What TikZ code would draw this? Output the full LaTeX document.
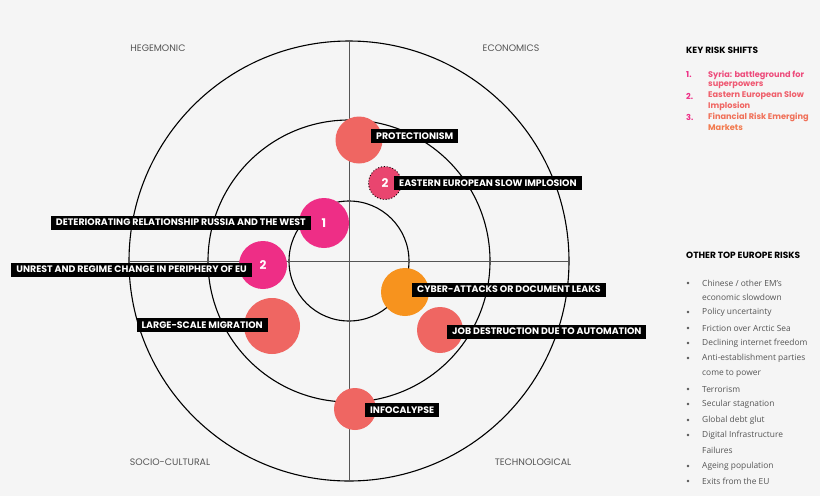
\documentclass[tikz,border=0pt]{standalone}
\usepackage{fontspec}
\setmainfont{Open Sans}
\newfontfamily\capfont{Poppins}
\usepackage{xcolor}
\usetikzlibrary{positioning}

\definecolor{bggray}{HTML}{F5F5F5}
\definecolor{riskpink}{HTML}{EE2E86}
\definecolor{risksalmon}{HTML}{EF6662}
\definecolor{riskrose}{HTML}{E9456F}
\definecolor{riskorange}{HTML}{F7931E}
\definecolor{axisgray}{HTML}{555555}
\definecolor{listgray}{HTML}{555555}

\begin{document}
\begin{tikzpicture}[
  x=1pt, y=-1pt,
  every node/.style={inner sep=0pt},
  ring/.style={draw=black, line width=1.1pt},
  axisline/.style={draw=axisgray, line width=0.7pt},
  bubble/.style={circle, minimum size=#1, text=white,
                 font=\capfont\bfseries\fontsize{12}{12}\selectfont},
  tag/.style={fill=black, text=white, minimum height=14pt, inner xsep=5pt,
              font=\capfont\bfseries\fontsize{9.4}{10}\selectfont},
  quad/.style={text=axisgray, font=\capfont\fontsize{9.4}{10}\selectfont},
  head/.style={anchor=west, font=\capfont\bfseries\fontsize{9}{10}\selectfont},
  shiftline/.style={anchor=west, font=\capfont\bfseries\fontsize{8.2}{9}\selectfont},
  other/.style={anchor=west, text=listgray, font=\fontsize{8.4}{10}\selectfont},
]

\useasboundingbox[fill=bggray] (0,0) rectangle (820,496);

%% ── radar: rings and axes ───────────────────────────────────────────
\coordinate (c) at (349,261);
\foreach \r in {220,141,60}
  \draw[ring] (c) circle[radius=\r pt];
\draw[axisline] (349,41) -- (349,481);
\draw[axisline] (129,261) -- (569,261);

% quadrant names
\node[quad] (hegemonic) at (158,48)  {HEGEMONIC};
\node[quad] (economics) at (511,48)  {ECONOMICS};
\node[quad] (socio)     at (170,462) {SOCIO-CULTURAL};
\node[quad] (techno)    at (533,462) {TECHNOLOGICAL};

%% ── risk bubbles ────────────────────────────────────────────────────
\node[bubble=50pt, fill=riskpink]   (russia)  at (324,223) {1};
\node[bubble=48pt, fill=riskpink]   (unrest)  at (263,265) {2};
\node[bubble=47pt, fill=risksalmon] (protect) at (359,140) {};
\node[bubble=33pt, fill=riskrose, draw=black, dotted, line width=0.9pt]
                                    (eastern) at (385,183) {2};
\node[bubble=56pt, fill=risksalmon] (migrate) at (272,326) {};
\node[bubble=48pt, fill=riskorange] (cyber)   at (405,292) {};
\node[bubble=46pt, fill=risksalmon] (jobs)    at (440,330) {};
\node[bubble=42pt, fill=risksalmon] (info)    at (355,409) {};

% labels on top
\node[tag, anchor=east] (russialbl)  at (311,222.5) {DETERIORATING RELATIONSHIP RUSSIA AND THE WEST};
\node[tag, anchor=east] (unrestlbl)  at (252,269.5) {UNREST AND REGIME CHANGE IN PERIPHERY OF EU};
\node[tag, anchor=west] (protectlbl) at (371,136)   {PROTECTIONISM};
\node[tag, anchor=west] (easternlbl) at (394,183)   {EASTERN EUROPEAN SLOW IMPLOSION};
\node[tag, anchor=east] (migratelbl) at (268,325)   {LARGE-SCALE MIGRATION};
\node[tag, anchor=west] (cyberlbl)   at (412,289.5) {CYBER-ATTACKS OR DOCUMENT LEAKS};
\node[tag, anchor=west] (jobslbl)    at (447,331.5) {JOB DESTRUCTION DUE TO AUTOMATION};
\node[tag, anchor=west] (infolbl)    at (365,410)   {INFOCALYPSE};

%% ── right column: key risk shifts ──────────────────────────────────
\node[head] (keyhead) at (686,50) {KEY RISK SHIFTS};
\foreach \n/\y in {1/75, 2/96, 3/117}
  \node[shiftline, text=riskpink] (num\n) at (686,\y) {\n.};
\foreach \y/\col/\t in {75/ED4C7C/{Syria: battleground for}, 85/EF5872/superpowers,
                        96/EF5E6A/{Eastern European Slow}, 106/F06562/Implosion,
                        117/F07058/{Financial Risk Emerging}, 127/F27A4E/Markets}
  \node[shiftline] (shift\y) at (708,\y) {\color[HTML]{\col}\t};

%% ── right column: other top europe risks ───────────────────────────
\node[head] (otherhead) at (686,255) {OTHER TOP EUROPE RISKS};
\foreach \y/\b/\t in {283/1/{Chinese / other EM’s}, 297/0/economic slowdown,
                      312/1/Policy uncertainty, 328/1/Friction over Arctic Sea,
                      343/1/Declining internet freedom, 358/1/Anti-establishment parties,
                      374/0/come to power, 389/1/Terrorism, 404/1/Secular stagnation,
                      420/1/Global debt glut, 435/1/Digital Infrastructure,
                      450/0/Failures, 466/1/Ageing population, 481/1/Exits from the EU} {
  \node[other] (risk\y) at (702,\y) {\t};
  \ifnum\b=1 \fill[listgray] (688,\y) circle[radius=1.3pt]; \fi
}

\end{tikzpicture}
\end{document}
